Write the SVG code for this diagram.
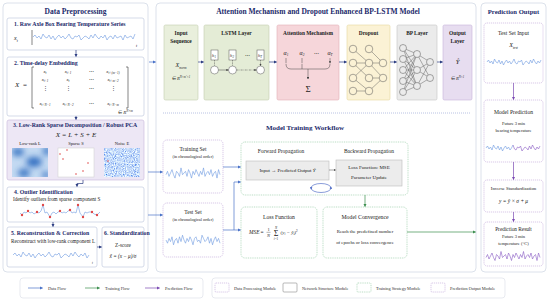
<svg xmlns="http://www.w3.org/2000/svg" width="550" height="303" viewBox="0 0 550 303">
<style>
text{font-family:"Liberation Serif","Times New Roman",serif;fill:#222;}
.h1{font-size:7.5px;font-weight:bold;fill:#1c2a6b;text-anchor:middle}
.h2{font-size:5.8px;font-weight:bold;fill:#1c2a6b}
.bt{font-size:5.4px;font-weight:bold;fill:#222;text-anchor:middle}
.t{font-size:5.2px}
.s{font-size:4.5px}
.c{text-anchor:middle}
.i{font-style:italic}
.panel{fill:#fff;stroke:#d3d9e6;stroke-width:0.8}
.box{fill:#fff;stroke:#c3cbe0;stroke-width:0.7}
.dp{fill:#fff;stroke:#c9b2de;stroke-width:0.7;stroke-dasharray:1.2,0.8}
.tr{fill:#fff;stroke:#9ccfab;stroke-width:0.7;stroke-dasharray:1,0.8}
.gb{fill:#ececec;stroke:#bdbdbd;stroke-width:0.6}
.ser{fill:none;stroke-width:0.6;stroke-linejoin:round}
.an{stroke:#2d3e82;stroke-width:0.7;fill:none;marker-end:url(#aN)}
.ab{stroke:#4a72c8;stroke-width:0.7;fill:none;marker-end:url(#aB)}
.ag{stroke:#3d8f4f;stroke-width:0.7;fill:none;marker-end:url(#aG)}
.ap{stroke:#7b4bb3;stroke-width:0.7;fill:none;marker-end:url(#aP)}
.ak{stroke:#444;stroke-width:0.5;fill:none;marker-end:url(#aK)}
.nn{stroke:#555;stroke-width:0.45}
.lg{font-size:4.3px;fill:#333}
</style>
<defs>
<marker id="aN" viewBox="0 0 6 6" refX="5" refY="3" markerWidth="3.2" markerHeight="3.2" markerUnits="userSpaceOnUse" orient="auto"><path d="M0,0 L6,3 L0,6 z" fill="#2d3e82"/></marker>
<marker id="aB" viewBox="0 0 6 6" refX="5" refY="3" markerWidth="3.2" markerHeight="3.2" markerUnits="userSpaceOnUse" orient="auto"><path d="M0,0 L6,3 L0,6 z" fill="#4a72c8"/></marker>
<marker id="aG" viewBox="0 0 6 6" refX="5" refY="3" markerWidth="3.2" markerHeight="3.2" markerUnits="userSpaceOnUse" orient="auto"><path d="M0,0 L6,3 L0,6 z" fill="#3d8f4f"/></marker>
<marker id="aP" viewBox="0 0 6 6" refX="5" refY="3" markerWidth="3.2" markerHeight="3.2" markerUnits="userSpaceOnUse" orient="auto"><path d="M0,0 L6,3 L0,6 z" fill="#7b4bb3"/></marker>
<marker id="aK" viewBox="0 0 6 6" refX="5" refY="3" markerWidth="2.4" markerHeight="2.4" markerUnits="userSpaceOnUse" orient="auto"><path d="M0,0 L6,3 L0,6 z" fill="#444"/></marker>
<filter id="blur" x="-50%" y="-50%" width="200%" height="200%"><feGaussianBlur stdDeviation="3"/></filter>
<filter id="noise" x="0" y="0" width="100%" height="100%"><feTurbulence type="fractalNoise" baseFrequency="0.9" numOctaves="2" seed="3"/><feColorMatrix type="matrix" values="-1.5 0 0 0 1.3  -1.4 0 0 0 1.4  -0.3 0 0 0 1.1  0 0 0 0 1"/></filter>
<clipPath id="cL"><rect x="12" y="148" width="36" height="29"/></clipPath>
<polyline id="s1" class="ser" vector-effect="non-scaling-stroke" points="0,0 2,-2 4,1 6,-1 8,2 10,-3 12,0 14,1 16,-2 18,2 20,-1 22,3 24,0 26,-2 28,1 30,-1 32,2 34,0 36,-3 38,1 40,2 42,-1 44,0 46,-2 48,3 50,1 52,-1 54,0 56,2 58,-2 60,1 62,-3 64,0 66,2 68,-1 70,1 72,-2 74,3 76,0 78,-1 80,2 82,-2 84,1 86,0 88,-1 90,3 92,-2 94,1 96,0 98,-1 100,2 102,-3"/>
<polyline id="s2" class="ser" vector-effect="non-scaling-stroke" points="0,0 2,-2 4,1 6,-1 8,2 10,-3 12,0 14,1 16,-2 18,2 20,-1 22,3 24,0 26,-2 28,1 30,-1 32,2 34,0 36,-3 38,1 40,2 42,-1 44,0 46,-2 48,3 50,1 52,-1 54,0 56,2 58,-2 60,1 62,-3 64,0 66,2 68,-1 70,1 72,-2 74,3 76,0"/>
<polyline id="s3" class="ser" vector-effect="non-scaling-stroke" points="0,0 1.5,-2 3,1 4.5,-1 6,2 7.5,-3 9,0 10.5,1 12,-2 13.5,2 15,-1 16.5,3 18,0 19.5,-2 21,1 22.5,-1 24,2 25.5,0 27,-3 28.5,1 30,2 31.5,-1 33,0 34.5,-2 36,3 37.5,1 39,-1 40.5,0 42,2 43.5,-2 45,1 46.5,-3 48,0 49.5,2 51,-1 52.5,1 54,-2"/>
<polyline id="s3a" class="ser" vector-effect="non-scaling-stroke" points="0,0 1.5,-2 3,1 4.5,-1 6,2 7.5,-3 9,0 10.5,1 12,-2 13.5,2 15,-1 16.5,3 18,0 19.5,-2 21,1 22.5,-1 24,2 25.5,0 27,-3"/>
<polyline id="s3b" class="ser" vector-effect="non-scaling-stroke" points="27,-3 28.5,1 30,2 31.5,-1 33,0 34.5,-2 36,3 37.5,1 39,-1 40.5,0 42,2 43.5,-2 45,1 46.5,-3 48,0 49.5,2 51,-1 52.5,1 54,-2"/>
<polyline id="s4" class="ser" vector-effect="non-scaling-stroke" points="0,1 1.5,-1 3,2 4.5,0 6,-2 7.5,1 9,3 10.5,-1 12,0 13.5,2 15,-3 16.5,1 18,0 19.5,-1 21,2 22.5,-2 24,0 25.5,3 27,-1 28.5,1 30,-2 31.5,0 33,2 34.5,-1 36,1 37.5,-3 39,2 40.5,0 42,-1 43.5,1 45,-2 46.5,2 48,0 49.5,-1 51,3 52.5,-2 54,1"/>
</defs>
<rect width="550" height="303" fill="#fff"/>

<!-- panels -->
<g id="panel-left">
<rect class="panel" x="3" y="3" width="145" height="269" rx="4"/>
<text class="h1" x="75.5" y="14">Data Preprocessing</text>
</g>
<g id="panel-middle">
<rect class="panel" x="156" y="3" width="320" height="269" rx="4"/>
<text class="h1" x="318" y="14">Attention Mechanism and Dropout Enhanced BP-LSTM Model</text>
<line x1="163" y1="113" x2="470" y2="113" stroke="#6d82c4" stroke-width="0.6" stroke-dasharray="0.8,1.2"/>
<text class="h1" x="305" y="130" style="font-size:7px">Model Training Workflow</text>
</g>
<g id="panel-right">
<rect class="panel" x="481" y="3" width="65" height="269" rx="4"/>
<text class="h1" x="513.5" y="14" style="font-size:6.6px">Prediction Output</text>
</g>

<!-- left nodes -->
<g id="raw-series">
<rect class="box" x="7" y="18" width="137" height="32" rx="2"/>
<text class="h2" x="14" y="26">1. Raw Axle Box Bearing Temperature Series</text>
<text class="i" x="14" y="40" font-size="6">x<tspan font-size="4" dy="1.5">t</tspan></text>
<line x1="32" y1="30" x2="32" y2="45" stroke="#333" stroke-width="0.6"/>
<use href="#s1" transform="translate(33,37)" stroke="#6f9be0"/>
<text class="i" x="136" y="47" font-size="4">t</text>
</g>
<g id="embedding">
<rect class="box" x="7" y="57" width="137" height="59" rx="2"/>
<text class="h2" x="14" y="65">2. Time-delay Embedding</text>
<text class="i" x="15" y="87" font-size="7">X</text>
<text x="23" y="87" font-size="7">=</text>
<path d="M34,67 h-2 v41 h2 M126,67 h2 v41 h-2" fill="none" stroke="#333" stroke-width="0.6"/>
<g font-size="4.6" class="i" text-anchor="middle">
<text x="45" y="73">x<tspan font-size="3.2" dy="1">t</tspan></text>
<text x="68" y="73">x<tspan font-size="3.2" dy="1">t+1</tspan></text>
<text x="91" y="73" style="font-style:normal">⋯</text>
<text x="113" y="73">x<tspan font-size="3.2" dy="1">t+(m−1)</tspan></text>
<text x="45" y="81">x<tspan font-size="3.2" dy="1">t+1</tspan></text>
<text x="68" y="81">x<tspan font-size="3.2" dy="1">t</tspan></text>
<text x="91" y="81" style="font-style:normal">⋯</text>
<text x="113" y="81">x<tspan font-size="3.2" dy="1">t+m+2</tspan></text>
<text x="45" y="90" style="font-style:normal">⋮</text>
<text x="68" y="90" style="font-style:normal">⋮</text>
<text x="91" y="90" style="font-style:normal">⋯</text>
<text x="113" y="90" style="font-style:normal">⋮</text>
<text x="45" y="105">x<tspan font-size="3.2" dy="1">t+N−1</tspan></text>
<text x="68" y="105">x<tspan font-size="3.2" dy="1">t+N−2</tspan></text>
<text x="91" y="105" style="font-style:normal">⋯</text>
<text x="113" y="105">x<tspan font-size="3.2" dy="1">t+N−m</tspan></text>
</g>
<text x="118" y="113.5" font-size="5">∈ <tspan class="i">R</tspan><tspan font-size="3.2" dy="-2" class="i">N×m</tspan></text>
</g>
<g id="rpca">
<rect x="7" y="120" width="137" height="60" rx="2" fill="#ede7f5" stroke="#cdbfe0" stroke-width="0.7"/>
<text class="h2" x="13" y="127">3. Low-Rank Sparse Decomposition / Robust PCA</text>
<text class="i c" x="76" y="137" font-size="7">X = L + S + E</text>
<text class="s c" x="30" y="145">Low-rank L</text>
<text class="s c" x="76" y="145">Sparse S</text>
<text class="s c" x="122" y="145">Noise E</text>
<g clip-path="url(#cL)">
<rect x="12" y="148" width="36" height="29" fill="#c4daf2"/>
<g filter="url(#blur)" fill="#2f6cc0">
<ellipse cx="18" cy="152" rx="6" ry="4"/>
<ellipse cx="34" cy="162" rx="8" ry="5"/>
<ellipse cx="24" cy="173" rx="6" ry="4"/>
<ellipse cx="47" cy="151" rx="4" ry="4"/>
<ellipse cx="46" cy="175" rx="4" ry="3"/>
</g>
</g>
<rect x="58" y="148" width="36" height="29" fill="#fff" stroke="#cfcfcf" stroke-width="0.5"/>
<g fill="#e04848">
<circle cx="67" cy="150" r="0.8"/><circle cx="60" cy="154" r="0.8"/><circle cx="63" cy="159" r="0.8"/>
<circle cx="88" cy="163" r="0.8"/><circle cx="83" cy="171" r="0.8"/><circle cx="76" cy="174" r="0.8"/>
</g>
<rect x="104" y="148" width="36" height="29" fill="#5a8ad8" filter="url(#noise)"/>
<circle cx="108" cy="161" r="0.8" fill="#e04848"/>
</g>
<g id="outlier">
<rect class="box" x="7" y="187" width="137" height="35" rx="2"/>
<text class="h2" x="14" y="194">4. Outlier Identification</text>
<text class="t" x="13" y="201" font-size="4.9">Identify outliers from sparse component S</text>
<polyline class="ser" stroke="#6f9be0" points="20,213 22,215 24,212 26,213 28,211 30,213 32,212 34,214 37,212 39,213 41,211 43,205 45,213 47,212 50,217 52,213 54,212 56,214 58,212 60,211 62,213 64,212 66,213 68,211 70,210 72,213 74,212 76,213 78,205 80,213 83,217 85,212 87,213 89,212 92,212 94,214 97,215 99,213 100,212"/>
<g fill="#e04848">
<circle cx="22" cy="215" r="1.2"/><circle cx="28" cy="211" r="1.2"/><circle cx="37" cy="212" r="1.2"/><circle cx="43" cy="205" r="1.2"/><circle cx="50" cy="217" r="1.2"/><circle cx="60" cy="211" r="1.2"/><circle cx="70" cy="210" r="1.2"/><circle cx="78" cy="205" r="1.2"/><circle cx="83" cy="217" r="1.2"/><circle cx="92" cy="212" r="1.2"/><circle cx="97" cy="215" r="1.2"/>
</g>
</g>
<g id="reconstruction">
<rect class="box" x="7" y="227" width="90" height="40" rx="2"/>
<text class="h2" x="11" y="235" font-size="5.6">5. Reconstruction &amp; Correction</text>
<text class="t" x="11" y="243" font-size="4.8">Reconstruct with low-rank component L</text>
<use href="#s2" transform="translate(13,255)" stroke="#6f9be0"/>
<text class="i" x="92" y="264" font-size="3">t</text>
</g>
<g id="standardization">
<rect class="box" x="102" y="227" width="42" height="40" rx="2"/>
<text class="h2" x="104" y="235" font-size="4.6">6. Standardization</text>
<text class="t c" x="123" y="247">Z-score</text>
<text class="t c i" x="123" y="258" font-size="5">x̃ = (x − μ)/σ</text>
</g>

<!-- model nodes -->
<g id="input-seq">
<rect x="164" y="25" width="34" height="75" rx="1.5" fill="#e9efdc" stroke="#c5cfb0" stroke-width="0.6"/>
<text class="bt" x="181" y="35">Input</text>
<text class="bt" x="181" y="43">Sequence</text>
<text class="i c" x="181" y="67" font-size="6">X<tspan font-size="3.5" dy="1.5">norm</tspan></text>
<text class="c" x="181" y="80" font-size="4.6">∈ <tspan class="i">R</tspan><tspan font-size="3" dy="-2" class="i">N×m′×1</tspan></text>
</g>
<g id="lstm">
<rect x="204" y="25" width="65" height="75" rx="1.5" fill="#e4ecd6" stroke="#c5cfb0" stroke-width="0.6"/>
<text class="bt" x="236.5" y="35">LSTM Layer</text>
<g fill="#fff" stroke="#555" stroke-width="0.5">
<rect x="211" y="50" width="7" height="10"/><rect x="229" y="50" width="7" height="10"/><rect x="257" y="50" width="7" height="10"/>
<circle cx="214.5" cy="70" r="4"/><circle cx="232.5" cy="70" r="4"/><circle cx="260.5" cy="70" r="4"/>
</g>
<g class="i c" font-size="4.6">
<text x="214" y="56.5">h<tspan font-size="3" dy="1">1</tspan></text>
<text x="232" y="56.5">h<tspan font-size="3" dy="1">2</tspan></text>
<text x="260" y="56.5">h<tspan font-size="3" dy="1">T</tspan></text>
</g>
<text class="c" x="247" y="57" font-size="5">⋯</text>
<path class="ak" d="M214.5,60 V65.6 M232.5,60 V65.6 M260.5,60 V65.6" stroke-dasharray="1,0.6"/>
<path class="ak" d="M218.5,70 H228.3"/>
<path class="ak" d="M236.5,70 H256.3" stroke-dasharray="2,0.8,0.5,0.8"/>
</g>
<g id="attention">
<rect x="277" y="25" width="62" height="75" rx="1.5" fill="#f6d6da" stroke="#e3b0b7" stroke-width="0.6"/>
<text class="bt" x="308" y="35">Attention Mechanism</text>
<g class="i c" font-size="6">
<text x="286" y="55">α<tspan font-size="3.5" dy="1.2">1</tspan></text>
<text x="302" y="55">α<tspan font-size="3.5" dy="1.2">2</tspan></text>
<text x="330" y="55">α<tspan font-size="3.5" dy="1.2">T</tspan></text>
</g>
<text class="c" x="316" y="55" font-size="5">⋯</text>
<path class="ak" d="M286,58 V63.2 M302,58 V63.2 M330,58 V63.2"/>
<path d="M286,64 Q286,69 291,69 H325 Q330,69 330,64 M302,64 V69" fill="none" stroke="#444" stroke-width="0.5"/>
<path class="ak" d="M308,69 V79"/>
<text class="c" x="308" y="92" font-size="9">Σ</text>
</g>
<g id="dropout">
<rect x="347" y="25" width="43" height="75" rx="1.5" fill="#fbf2d5" stroke="#e6d6a0" stroke-width="0.6"/>
<text class="bt" x="368.5" y="35">Dropout</text>
<path class="nn" d="M353,49 L369,63 M353,63 L369,63 M353,63 L369,78 M353,78 L369,63 M353,91 L369,91 M353,78 L369,91 M369,63 L383,63 M369,63 L383,78 M369,78 L383,78 M369,91 L383,78 M369,49 L383,63"/>
<g fill="#fbf2d5" stroke="#555" stroke-width="0.5">
<circle cx="353" cy="49" r="3.8"/><circle cx="353" cy="63" r="3.8"/><circle cx="353" cy="78" r="3.8"/><circle cx="353" cy="91" r="3.8"/>
<circle cx="369" cy="49" r="3.8"/><circle cx="369" cy="63" r="3.8"/><circle cx="369" cy="78" r="3.8"/><circle cx="369" cy="91" r="3.8"/>
<circle cx="383" cy="63" r="3.8"/><circle cx="383" cy="78" r="3.8"/>
</g>
</g>
<g id="bp-layer">
<rect x="397" y="25" width="40" height="75" rx="1.5" fill="#ebebeb" stroke="#c4c4c4" stroke-width="0.6"/>
<text class="bt" x="417" y="35">BP Layer</text>
<path class="nn" stroke-width="0.35" d="M403,48 L417,54 M403,48 L417,70 M403,48 L417,86 M403,59 L417,54 M403,59 L417,70 M403,59 L417,86 M403,70 L417,54 M403,70 L417,70 M403,70 L417,86 M403,81 L417,54 M403,81 L417,70 M403,81 L417,86 M403,92 L417,54 M403,92 L417,70 M403,92 L417,86 M417,54 L430,62 M417,54 L430,78 M417,70 L430,62 M417,70 L430,78 M417,86 L430,62 M417,86 L430,78"/>
<g fill="#ebebeb" stroke="#555" stroke-width="0.5">
<circle cx="403" cy="48" r="3.5"/><circle cx="403" cy="59" r="3.5"/><circle cx="403" cy="70" r="3.5"/><circle cx="403" cy="81" r="3.5"/><circle cx="403" cy="92" r="3.5"/>
<circle cx="417" cy="54" r="3.5"/><circle cx="417" cy="70" r="3.5"/><circle cx="417" cy="86" r="3.5"/>
<circle cx="430" cy="62" r="3.5"/><circle cx="430" cy="78" r="3.5"/>
</g>
</g>
<g id="output-layer">
<rect x="443" y="25" width="29" height="75" rx="1.5" fill="#e7ddf0" stroke="#c6b4da" stroke-width="0.6"/>
<text class="bt" x="457.5" y="35">Output</text>
<text class="bt" x="457.5" y="43">Layer</text>
<text class="c i" x="457.5" y="64" font-size="6.5">Ŷ</text>
<text class="c" x="457.5" y="80" font-size="4.6">∈ <tspan class="i">R</tspan><tspan font-size="3" dy="-2" class="i">N×1</tspan></text>
</g>

<!-- training workflow nodes -->
<g id="training-set">
<rect class="dp" x="163" y="140" width="60" height="53" rx="4"/>
<text class="c" x="193" y="151" font-size="5.5">Training Set</text>
<text class="c" x="193" y="158" font-size="4.3">(in chronological order)</text>
<use href="#s4" transform="translate(166,173) scale(1,1.7)" stroke="#6f9be0"/>
</g>
<g id="test-set">
<rect class="dp" x="163" y="203" width="60" height="54" rx="4"/>
<text class="c" x="193" y="214" font-size="5.5">Test Set</text>
<text class="c" x="193" y="221" font-size="4.3">(in chronological order)</text>
<use href="#s3" transform="translate(166,240) scale(1,-1.6)" stroke="#6f9be0"/>
</g>
<g id="propagation">
<rect class="tr" x="241" y="142" width="167" height="53" rx="4"/>
<text class="c" x="281" y="153" font-size="5.5">Forward Propagation</text>
<text class="c" x="369" y="153" font-size="5.5">Backward Propagation</text>
<rect class="gb" x="246" y="161" width="83" height="19"/>
<text class="c" x="287.5" y="172" font-size="5">Input → Predicted Output <tspan class="i">Ŷ</tspan></text>
<rect class="gb" x="336" y="160" width="66" height="26"/>
<text class="c" x="369" y="169" font-size="5">Loss Function: MSE</text>
<text class="c" x="369" y="179" font-size="5">Parameter Update</text>
<path class="ak" d="M329,170 H335.5"/>
<ellipse cx="321" cy="188" rx="10" ry="4.5" fill="none" stroke="#3a5bc0" stroke-width="0.6"/>
<path d="M310,187 l1,2.6 l1.4,-2.2z M332,189 l-1,-2.6 l-1.4,2.2z" fill="#3a5bc0"/>
</g>
<g id="loss-function">
<rect class="tr" x="241" y="207" width="76" height="51" rx="4"/>
<text class="c" x="279" y="219" font-size="5.6">Loss Function</text>
<text class="i" x="249" y="234" font-size="5.4">MSE</text>
<text x="260.5" y="234" font-size="5.4">=</text>
<text class="c" x="268.5" y="231" font-size="4.4">1</text>
<line x1="266.5" y1="232.3" x2="270.5" y2="232.3" stroke="#222" stroke-width="0.35"/>
<text class="c i" x="268.5" y="237" font-size="4.4">N</text>
<text class="c" x="276" y="236" font-size="8">Σ</text>
<text class="c i" x="276" y="228.5" font-size="3.2">N</text>
<text class="c" x="276" y="240" font-size="3.2"><tspan class="i">i</tspan>=1</text>
<text x="280.5" y="234" font-size="5"><tspan class="i">(y<tspan font-size="3.2" dy="1">i</tspan><tspan dy="-1"> − ŷ</tspan><tspan font-size="3.2" dy="1">i</tspan><tspan dy="-1">)</tspan></tspan><tspan font-size="3.2" dy="-2">2</tspan></text>
</g>
<g id="convergence">
<rect class="tr" x="323" y="207" width="84" height="51" rx="4"/>
<text class="c" x="365" y="219" font-size="5.8">Model Convergence</text>
<text class="c" x="365" y="233" font-size="4.8">Reach the predefined number</text>
<text class="c" x="365" y="244" font-size="4.8">of epochs or loss convergence</text>
</g>

<!-- prediction nodes -->
<g id="test-input">
<rect class="dp" x="484" y="23" width="59" height="60" rx="3"/>
<text class="c" x="513.5" y="35" font-size="5.6">Test Set Input</text>
<text class="c i" x="513.5" y="47" font-size="6">X<tspan font-size="3.5" dy="1.5">test</tspan></text>
<use href="#s3" transform="translate(487,62)" stroke="#6f9be0"/>
</g>
<g id="model-prediction">
<rect class="dp" x="484" y="100" width="59" height="62" rx="3"/>
<text class="c" x="513.5" y="114" font-size="5.6">Model Prediction</text>
<text class="c" x="513.5" y="125" font-size="4.5">Future 3 min</text>
<text class="c" x="513.5" y="132" font-size="4.5">bearing temperature</text>
<use href="#s3a" transform="translate(486,148)" stroke="#6f9be0"/>
<use href="#s3b" transform="translate(486,148)" stroke="#8a5cc4"/>
</g>
<g id="inverse-std">
<rect class="dp" x="484" y="180" width="59" height="32" rx="3"/>
<text class="c" x="513.5" y="190" font-size="4.8">Inverse Standardization</text>
<text class="c i" x="513.5" y="203" font-size="5.4">y = ŷ × σ + μ</text>
</g>
<g id="prediction-result">
<rect class="dp" x="484" y="222" width="59" height="44" rx="3"/>
<text class="c" x="513.5" y="231" font-size="5.3">Prediction Result</text>
<text class="c" x="513.5" y="238" font-size="4.5">Future 3 min</text>
<text class="c" x="513.5" y="245" font-size="4.5">temperature (°C)</text>
<use href="#s4" transform="translate(486,256) scale(1,1.5)" stroke="#8a5cc4"/>
</g>

<!-- connectors -->
<g id="connectors">
<path class="an" d="M76,50 V56.5"/>
<path class="an" d="M76,116 V119.5"/>
<path class="an" d="M83,180 V183.5 H77 V186.5"/>
<path class="an" d="M53,222 V226.5"/>
<path class="an" d="M97,247 H101.5"/>
<path class="ab" d="M149,62 H155.5"/>
<path class="an" d="M198,62 H203.5"/>
<path class="an" d="M269,62 H276.5"/>
<path class="an" d="M339,62 H346.5"/>
<path class="an" d="M390,62 H396.5"/>
<path class="an" d="M437,62 H442.5"/>
<path class="ab" d="M148,172 H162.5"/>
<path class="ab" d="M148,215 H162.5"/>
<path class="ab" d="M223,167 H240.5"/>
<path class="ab" d="M223,230 H234 V182 H240.5"/>
<path class="ab" d="M234,230 H240.5"/>
<path class="ag" d="M365,195 V206.5"/>
<path class="ag" d="M407,232 H475.5"/>
<path class="ap" d="M513.5,83 V99.5"/>
<path class="ap" d="M513.5,162 V179.5"/>
<path class="ap" d="M513.5,212 V221.5"/>
</g>

<!-- legend -->
<g id="legend-flows">
<rect x="20" y="278" width="183" height="20" rx="3" fill="#fff" stroke="#d8dce6" stroke-width="0.6"/>
<path class="ab" d="M28,288 H42.5" stroke="#7ea6dc"/>
<text class="lg" x="48" y="289.5">Data Flow</text>
<path class="ag" d="M85,288 H99.5"/>
<text class="lg" x="105" y="289.5">Training Flow</text>
<path class="ap" d="M145,288 H159.5"/>
<text class="lg" x="165" y="289.5">Prediction Flow</text>
</g>
<g id="legend-modules">
<rect x="212" y="278" width="293" height="20" rx="3" fill="#fff" stroke="#d8dce6" stroke-width="0.6"/>
<rect class="dp" x="215" y="283" width="14" height="9" rx="1"/>
<text class="lg" x="234" y="289.5">Data Processing Module</text>
<rect x="283" y="283" width="14" height="9" rx="1" fill="#fff" stroke="#8a8a8a" stroke-width="0.6"/>
<text class="lg" x="302" y="289.5">Network Structure Module</text>
<rect class="tr" x="357" y="283" width="14" height="9" rx="1"/>
<text class="lg" x="376" y="289.5">Training Strategy Module</text>
<rect class="dp" x="431" y="283" width="14" height="9" rx="1"/>
<text class="lg" x="450" y="289.5">Prediction Output Module</text>
</g>
</svg>
